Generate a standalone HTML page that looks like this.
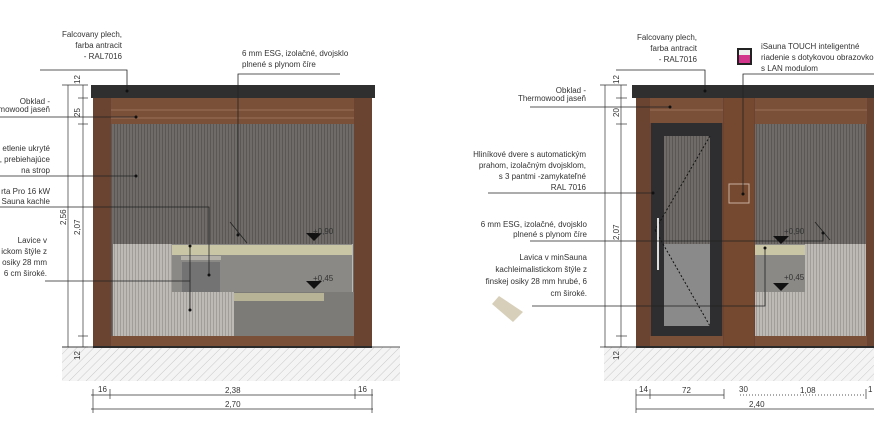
<!DOCTYPE html>
<html><head><meta charset="utf-8"><style>
html,body{margin:0;padding:0;background:#fff;width:874px;height:426px;overflow:hidden}
svg{display:block}
text{font-family:"Liberation Sans",sans-serif;font-size:8px;fill:#333}
</style></head><body>
<svg width="874" height="426" viewBox="0 0 874 426" xmlns="http://www.w3.org/2000/svg">
<defs>
<pattern id="hatch" width="6" height="6" patternUnits="userSpaceOnUse" patternTransform="rotate(45)">
<rect width="6" height="6" fill="#f4f4f4"/><line x1="0" y1="0" x2="0" y2="6" stroke="#c8c8c8" stroke-width="1"/></pattern>
<pattern id="vstripe" width="3" height="10" patternUnits="userSpaceOnUse">
<rect width="3" height="10" fill="#6e6b68"/><rect width="1" height="10" fill="#5a5754"/></pattern>
<pattern id="lstripe" width="3" height="10" patternUnits="userSpaceOnUse">
<rect width="3" height="10" fill="#bdbab5"/><rect width="1" height="10" fill="#a19e99"/></pattern>
</defs>

<!-- LEFT DRAWING -->
<rect x="62" y="347" width="338" height="34" fill="url(#hatch)"/>
<line x1="62" y1="347" x2="400" y2="347" stroke="#555"/>
<rect x="93" y="97" width="279" height="250" fill="#6b4431"/>
<rect x="111" y="98" width="243" height="26" fill="#7a5039"/>
<line x1="111" y1="110" x2="354" y2="110" stroke="#9a7058"/>
<line x1="111" y1="118" x2="354" y2="118" stroke="#9a7058"/>
<rect x="111" y="124" width="243" height="212" fill="url(#vstripe)"/>
<rect x="113" y="244" width="240" height="92" fill="url(#lstripe)"/>
<rect x="172" y="244" width="180" height="48" fill="#8b8986"/>
<rect x="172" y="245" width="180" height="10" fill="#c9c6a6"/>
<rect x="234" y="292" width="120" height="44" fill="#7d7b78"/>
<rect x="234" y="293" width="90" height="8" fill="#b6b397"/>
<rect x="181" y="256" width="40" height="4" fill="#b4b2a8"/>
<rect x="182" y="262" width="38" height="30" fill="#737373"/>
<rect x="111" y="336" width="243" height="10" fill="#7a5039"/>
<rect x="91" y="85" width="284" height="13" fill="#2f2f2f"/>
<rect x="93" y="346" width="279" height="2" fill="#2a2a2a"/>
<!-- leaders left -->
<g stroke="#222" stroke-width="0.8" fill="none">
<polyline points="40,70 127,70 127,91"/>
<line x1="0" y1="117" x2="136" y2="117"/>
<line x1="0" y1="176" x2="136" y2="176"/>
<polyline points="0,207 209,207 209,275"/>
<polyline points="45,281 190,281 190,310"/>
<line x1="190" y1="246" x2="190" y2="281"/>
<polyline points="340,74 238,74 238,235"/>
<line x1="230" y1="222" x2="247" y2="243"/>
</g>
<g fill="#111"><circle cx="127" cy="91" r="1.5"/><circle cx="136" cy="117" r="1.5"/><circle cx="136" cy="176" r="1.5"/><circle cx="209" cy="275" r="1.5"/><circle cx="190" cy="310" r="1.5"/><circle cx="190" cy="246" r="1.5"/><circle cx="238" cy="235" r="1.5"/>
<polygon points="306,233 322,233 314,241"/><polygon points="306,281 322,281 314,289"/></g>
<text x="313" y="234" font-size="8.5">+0,90</text>
<text x="313" y="281" font-size="8.5">+0,45</text>
<g text-anchor="end">
<text x="122" y="37">Falcovany plech,</text><text x="122" y="48">farba antracit</text><text x="122" y="59">- RAL7016</text>
<text x="50" y="104">Obklad -</text><text x="50" y="112">mowood jaseň</text>
<text x="50" y="151">etlenie ukryté</text><text x="50" y="162">, prebiehajúce</text><text x="50" y="173">na strop</text>
<text x="50" y="194">rta Pro 16 kW</text><text x="50" y="204">Sauna kachle</text>
<text x="47" y="243">Lavice v</text><text x="47" y="254">ickom štýle z</text><text x="47" y="265">osiky 28 mm</text><text x="47" y="276">6 cm široké.</text>
</g>
<text x="242" y="56">6 mm ESG, izolačné, dvojsklo</text><text x="242" y="67">plnené s plynom číre</text>
<!-- dims left -->
<g stroke="#333" stroke-width="0.7">
<line x1="68" y1="85" x2="68" y2="347"/><line x1="83" y1="85" x2="83" y2="347"/>
<line x1="62" y1="85" x2="88" y2="85"/><line x1="78" y1="98" x2="88" y2="98"/><line x1="78" y1="124" x2="88" y2="124"/><line x1="78" y1="336" x2="88" y2="336"/><line x1="62" y1="347" x2="88" y2="347"/>
<line x1="91" y1="395" x2="373" y2="395"/><line x1="91" y1="409" x2="373" y2="409"/>
<line x1="93" y1="389" x2="93" y2="413"/><line x1="110" y1="389" x2="110" y2="399"/><line x1="355" y1="389" x2="355" y2="399"/><line x1="372" y1="389" x2="372" y2="413"/>
</g>
<text x="98" y="392">16</text><text x="225" y="393" font-size="9">2,38</text><text x="358" y="392">16</text><text x="225" y="407" font-size="9">2,70</text>
<text transform="translate(66,225) rotate(-90)">2,56</text>
<text transform="translate(80,235) rotate(-90)">2,07</text>
<text transform="translate(80,84) rotate(-90)">12</text>
<text transform="translate(80,117) rotate(-90)">25</text>
<text transform="translate(80,360) rotate(-90)">12</text>

<!-- RIGHT DRAWING -->
<rect x="604" y="347" width="270" height="34" fill="url(#hatch)"/>
<line x1="604" y1="347" x2="874" y2="347" stroke="#555"/>
<rect x="636" y="97" width="238" height="250" fill="#6b4431"/>
<rect x="650" y="98" width="73" height="25" fill="#7a5039"/>
<rect x="755" y="98" width="112" height="26" fill="#7a5039"/>
<line x1="650" y1="110" x2="723" y2="110" stroke="#9a7058"/><line x1="755" y1="110" x2="867" y2="110" stroke="#9a7058"/>
<rect x="724" y="98" width="30" height="248" fill="#74492f"/>
<rect x="755" y="124" width="111" height="212" fill="url(#vstripe)"/>
<rect x="755" y="244" width="111" height="92" fill="url(#lstripe)"/>
<rect x="755" y="244" width="50" height="48" fill="#8b8986"/>
<rect x="755" y="245" width="50" height="10" fill="#c9c6a6"/>
<rect x="651" y="123" width="71" height="214" fill="#2e2e30"/>
<rect x="664" y="136" width="46" height="190" fill="url(#vstripe)"/>
<rect x="664" y="244" width="46" height="82" fill="#8a8a8a"/>
<line x1="710" y1="136" x2="655" y2="230" stroke="#111" stroke-dasharray="2,2"/>
<line x1="655" y1="230" x2="710" y2="326" stroke="#111" stroke-dasharray="2,2"/>
<rect x="657" y="218" width="2" height="52" fill="#ddd"/>
<rect x="729" y="184" width="20" height="19" fill="none" stroke="#c8b0a0"/>
<rect x="650" y="336" width="73" height="10" fill="#7a5039"/><rect x="755" y="336" width="112" height="10" fill="#7a5039"/>
<rect x="632" y="85" width="242" height="13" fill="#2f2f2f"/>
<rect x="636" y="346" width="238" height="2" fill="#2a2a2a"/>
<rect x="737" y="48" width="15" height="17" fill="#222"/><rect x="739" y="50" width="11" height="13" fill="#d4358c"/><rect x="739" y="50" width="11" height="5" fill="#eee"/>
<g stroke="#222" stroke-width="0.8" fill="none">
<polyline points="616,70 705,70 705,91"/>
<line x1="530" y1="107" x2="670" y2="107"/>
<line x1="488" y1="193" x2="653" y2="193"/>
<polyline points="874,74 743,74 743,194"/>
<polyline points="530,241 823,241 823,233"/>
<polyline points="532,306 765,306 765,248"/>
<line x1="815" y1="222" x2="830" y2="240"/>
</g>
<g fill="#111"><circle cx="705" cy="91" r="1.5"/><circle cx="670" cy="107" r="1.5"/><circle cx="653" cy="193" r="1.5"/><circle cx="743" cy="194" r="1.5"/><circle cx="823" cy="233" r="1.5"/><circle cx="765" cy="248" r="1.5"/>
<polygon points="773,236 789,236 781,244"/><polygon points="773,283 789,283 781,291"/></g>
<text x="784" y="234" font-size="8.5">+0,90</text><text x="784" y="280" font-size="8.5">+0,45</text>
<g text-anchor="end">
<text x="697" y="40">Falcovany plech,</text><text x="697" y="51">farba antracit</text><text x="697" y="62">- RAL7016</text>
<text x="586" y="93">Obklad -</text><text x="586" y="101">Thermowood jaseň</text>
<text x="586" y="157">Hliníkové dvere s automatickým</text><text x="586" y="168">prahom, izolačným dvojsklom,</text><text x="586" y="179">s 3 pantmi -zamykateľné</text><text x="586" y="190">RAL 7016</text>
<text x="587" y="227">6 mm ESG, izolačné, dvojsklo</text><text x="587" y="237">plnené s plynom číre</text>
<text x="587" y="260">Lavica v minSauna</text><text x="587" y="272">kachleimalistickom štýle z</text><text x="587" y="284">finskej osiky 28 mm hrubé, 6</text><text x="587" y="296">cm široké.</text>
</g>
<text x="761" y="49">iSauna TOUCH inteligentné</text><text x="761" y="60">riadenie s dotykovou obrazovkou</text><text x="761" y="71">s LAN modulom</text>
<polygon points="492,304 499,296 523,312 513,322" fill="#d8cfba"/>
<g stroke="#333" stroke-width="0.7">
<line x1="605" y1="85" x2="605" y2="347"/><line x1="621" y1="85" x2="621" y2="347"/>
<line x1="600" y1="85" x2="627" y2="85"/><line x1="616" y1="98" x2="627" y2="98"/><line x1="616" y1="124" x2="627" y2="124"/><line x1="616" y1="336" x2="627" y2="336"/><line x1="600" y1="347" x2="627" y2="347"/>
<line x1="636" y1="395" x2="724" y2="395"/><line x1="636" y1="409" x2="874" y2="409"/>
<line x1="636" y1="389" x2="636" y2="413"/><line x1="650" y1="389" x2="650" y2="399"/><line x1="724" y1="389" x2="724" y2="399"/><line x1="866" y1="389" x2="866" y2="399"/>
</g>
<line x1="740" y1="395" x2="866" y2="395" stroke="#555" stroke-dasharray="1,2"/>
<text x="639" y="392">14</text><text x="682" y="393" font-size="9">72</text><text x="739" y="392" fill="#aaa">30</text><text x="800" y="393" font-size="9">1,08</text><text x="868" y="392">1</text><text x="749" y="407" font-size="9">2,40</text>
<text transform="translate(619,240) rotate(-90)">2,07</text>
<text transform="translate(619,84) rotate(-90)">12</text>
<text transform="translate(619,117) rotate(-90)">20</text>
<text transform="translate(619,360) rotate(-90)">12</text>
</svg>
</body></html>
